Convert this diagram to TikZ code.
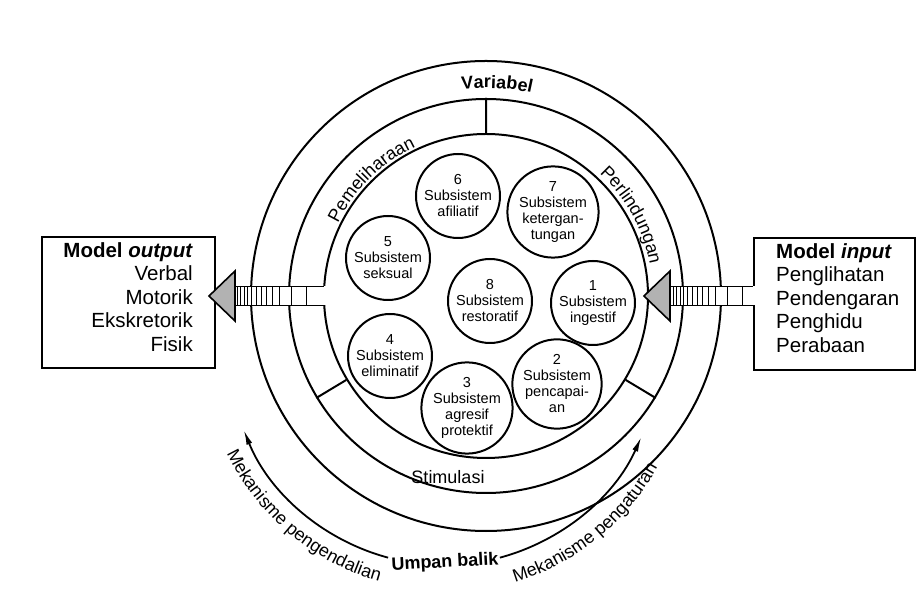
\documentclass[tikz,border=0pt]{standalone}
\usepackage{fontspec}
\setmainfont{Liberation Sans}
\usetikzlibrary{calc,arrows.meta,positioning,decorations.text}
\newcommand{\subfont}{\fontsize{14.5}{16}\selectfont}
\newcommand{\boxfont}{\fontsize{20.5}{23.5}\selectfont}
\newcommand{\arcfont}{\fontsize{18}{18}\selectfont}
\tikzset{
  ring/.style={draw,circle,line width=2pt,inner sep=0pt},
  subsys/.style={draw,circle,line width=2pt,minimum size=84pt,inner sep=0pt,align=center,font=\subfont},
  modelbox/.style={draw,line width=2pt,inner sep=0pt},
  boxtext/.style={inner sep=0pt,font=\boxfont},
  ringtext/.style={inner sep=0pt,font=\arcfont},
  divider/.style={line width=2pt},
  fatshaft/.style={line width=1.6pt},
  stripe/.style={line width=1pt},
  fathead/.style={draw,line width=1.6pt,fill=gray!60},
  fback/.style={line width=1.8pt,-{Latex[length=15pt,width=6pt]}},
  arclabel/.style={decorate,decoration={text along path,text align=center,text={#1}}}
}

\begin{document}
\begin{tikzpicture}[x=1pt,y=1pt]
\useasboundingbox (-486,-305) rectangle (431,296);
\node[modelbox,minimum width=173pt,minimum height=131pt] (outbox) at (-357.5,-6.5) {};
\node[boxtext,align=right,anchor=north east] (outlist) at ($(outbox.north east)+(-23,-6)$)
  {\textbf{Model \textit{output}}\\Verbal\\Motorik\\Ekskretorik\\Fisik};
\node[modelbox,minimum width=161pt,minimum height=132pt] (inbox) at (348.5,-8) {};
\node[boxtext,align=left,anchor=north west] (inlist) at ($(inbox.north west)+(23,-6)$)
  {\textbf{Model \textit{input}}\\Penglihatan\\Pendengaran\\Penghidu\\Perabaan};

\node[ring,minimum size=470pt] (ringA) at (0,0) {};
\node[ring,minimum size=394pt] (ringB) at (0,0) {};
\node[ring,minimum size=324pt] (ringC) at (0,0) {};
\draw[divider] (ringC.90) -- (ringB.90) (ringC.211) -- (ringB.211) (ringC.329) -- (ringB.329);

\node[subsys] (s1) at (107,-7) {1\\Subsistem\\ingestif};
\node[subsys] (s2) at (71,-88) {2\\Subsistem\\pencapai-\\an};
\node[subsys] (s3) at (-19,-112) {3\\Subsistem\\agresif\\protektif};
\node[subsys] (s4) at (-96,-60) {4\\Subsistem\\eliminatif};
\node[subsys] (s5) at (-98,38) {5\\Subsistem\\seksual};
\node[subsys] (s6) at (-28,100) {6\\Subsistem\\afiliatif};
\node[subsys] (s7) at (67,84) {7\\Subsistem\\ketergan-\\tungan};
\node[subsys] (s8) at (4,-5) {8\\Subsistem\\restoratif};

\path[arclabel={|\arcfont\bfseries|Variabel}] (110:208) arc[start angle=110,end angle=64,radius=208];
\path[arclabel={|\arcfont|Pemeliharaan}] (165:165) arc[start angle=165,end angle=104,radius=165];
\path[arclabel={|\arcfont|Perlindungan}] (61:167) arc[start angle=61,end angle=-3,radius=167];
\node[ringtext] (stim) at (-38,-181) {Stimulasi};

\coordinate (ltip) at ($(outbox.east |- ringC.west)+(-7,0)$);
\coordinate (lbase) at ($(ltip)+(26,0)$);
\fill[white] ($(lbase)+(0,-9.5)$) rectangle ($(ringC.west)+(3,9.5)$);
\draw[fatshaft] ($(lbase)+(0,9.5)$) -- ($(ringC.west)+(1,9.5)$) ($(lbase)+(0,-9.5)$) -- ($(ringC.west)+(1,-9.5)$);
\foreach \d in {3,6,10,13,17,22,27,32,38,45,57,72}
  \draw[stripe] ($(lbase)+(\d,-9.5)$) -- ($(lbase)+(\d,9.5)$);
\draw[fathead] (ltip) -- ($(lbase)+(0,25)$) -- ($(lbase)+(0,-25)$) -- cycle;

\coordinate (rtip) at ($(ringC.east)+(-5,0)$);
\coordinate (rbase) at ($(rtip)+(26,0)$);
\fill[white] ($(rbase)+(0,-9.5)$) rectangle ($(inbox.west |- ringC.east)+(2.5,9.5)$);
\draw[fatshaft] ($(rbase)+(0,9.5)$) -- ($(inbox.west |- ringC.east)+(0,9.5)$) ($(rbase)+(0,-9.5)$) -- ($(inbox.west |- ringC.east)+(0,-9.5)$);
\foreach \d in {3,6,10,13,17,22,27,32,38,45,57,72}
  \draw[stripe] ($(rbase)+(\d,-9.5)$) -- ($(rbase)+(\d,9.5)$);
\draw[fathead] (rtip) -- ($(rbase)+(0,25)$) -- ($(rbase)+(0,-25)$) -- cycle;

\coordinate (fb) at (-42,-53);
\coordinate (fbL) at ($(fb)+(255:216)$);
\coordinate (fbR) at ($(fb)+(285:216)$);
\node[ringtext,font=\arcfont\bfseries,rotate=3] (umpan) at (-41,-267) {Umpan balik};
\draw[fback] (fbL) arc[start angle=255,end angle=202,radius=216];
\draw[fback] (fbR) arc[start angle=285,end angle=336,radius=216];
\path[arclabel={|\arcfont|Mekanisme pengendalian}] ($(fb)+(195:241)$) arc[start angle=195,end angle=265,radius=241];
\path[arclabel={|\arcfont|Mekanisme pengaturan}] ($(fb)+(273:244)$) arc[start angle=273,end angle=345,radius=244];
\end{tikzpicture}
\end{document}
